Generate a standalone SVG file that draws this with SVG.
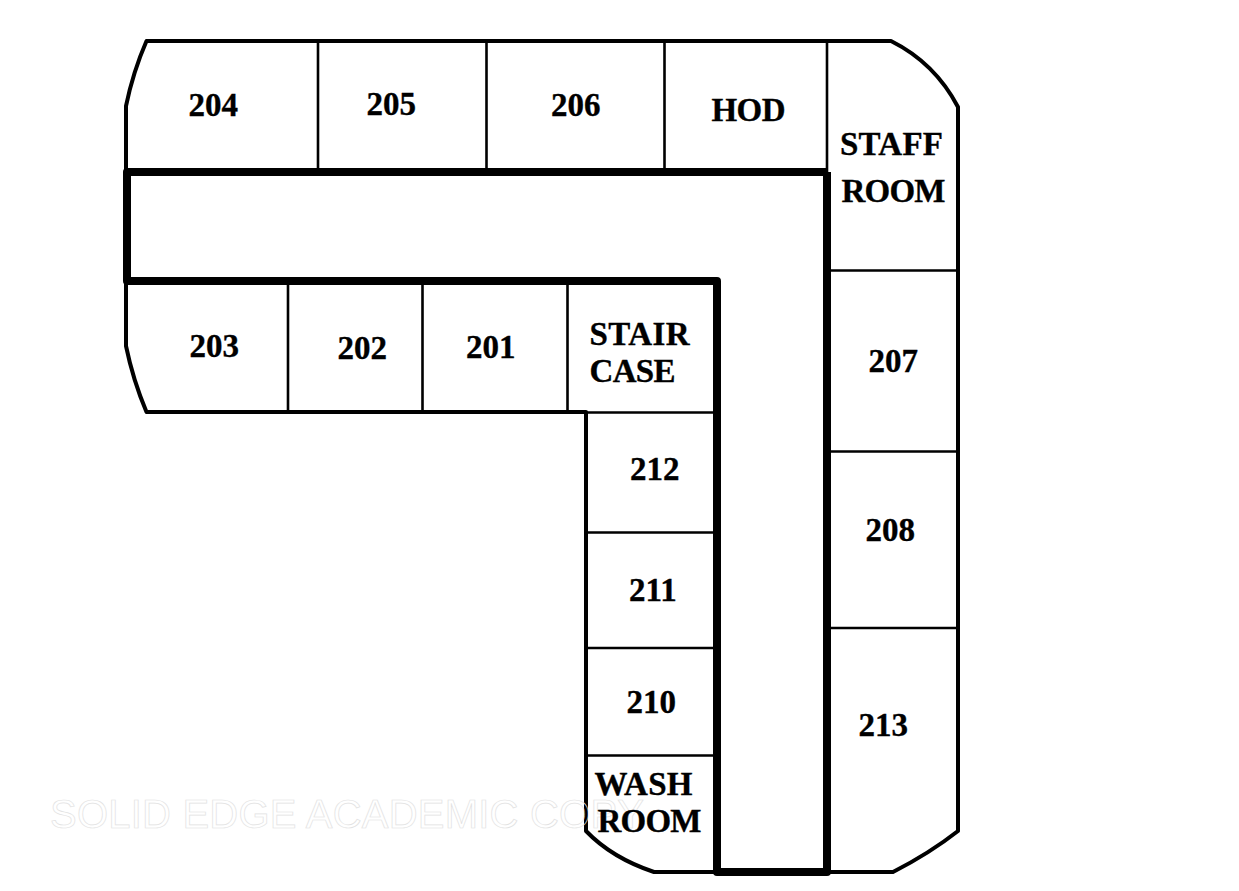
<svg xmlns="http://www.w3.org/2000/svg" width="1239" height="891" viewBox="0 0 1239 891">
<style>
.outer{fill:none;stroke:#000;stroke-width:4;stroke-linejoin:round}
.thin{fill:none;stroke:#000;stroke-width:2.6}
.wall{fill:none;stroke:#000;stroke-width:8;stroke-linejoin:round}
text{font-family:"Liberation Serif","Times New Roman",serif;font-weight:bold;font-size:33px;fill:#000;stroke:#000;stroke-width:.35}
text.wm{font-family:"Liberation Sans",Arial,sans-serif;font-weight:normal;font-size:40px;fill:none;stroke:#e2e2e2;stroke-width:.7}
</style>
<rect width="1239" height="891" fill="#fff"/>
<g id="connectors">
<path class="outer" d="M126 172V106Q133 72 146.500 41H891Q935 63 958 107V831Q930 853 893 872H654Q612 858 586 831V412H146.500Q133 380 126 346V282"/>
<path class="thin" d="M318 41V172M486.500 41V172M664.500 41V172M827 41V172M288 282V412M422.500 282V412M567.500 282V412M829 270.500H958M829 451.500H958M829 628H958M567.500 412.500H716M586 532.500H716M586 648H716M586 755.500H716"/>
<path class="wall" d="M827 172H127V281H717V872H827V172"/>
</g>
<text class="wm" x="50" y="828" textLength="594">SOLID EDGE ACADEMIC COPY</text>
<g id="r204"><text x="188.500" y="116">204</text></g>
<g id="r205"><text x="366.500" y="115">205</text></g>
<g id="r206"><text x="551" y="116">206</text></g>
<g id="hod"><text x="711.500" y="121" textLength="74">HOD</text></g>
<g id="staff"><text x="840" y="155" textLength="103">STAFF</text><text x="841.500" y="202" textLength="104">ROOM</text></g>
<g id="r203"><text x="189.500" y="357">203</text></g>
<g id="r202"><text x="337.500" y="359">202</text></g>
<g id="r201"><text x="466" y="358">201</text></g>
<g id="stair"><text x="589.500" y="345" textLength="100">STAIR</text><text x="589.500" y="382" textLength="86">CASE</text></g>
<g id="r207"><text x="868.500" y="372">207</text></g>
<g id="r208"><text x="865.500" y="541">208</text></g>
<g id="r213"><text x="858.500" y="736">213</text></g>
<g id="r212"><text x="630" y="480">212</text></g>
<g id="r211"><text x="629" y="601">211</text></g>
<g id="r210"><text x="626.500" y="713">210</text></g>
<g id="wash"><text x="594.500" y="795" textLength="98">WASH</text><text x="597.500" y="832" textLength="104">ROOM</text></g>
</svg>
